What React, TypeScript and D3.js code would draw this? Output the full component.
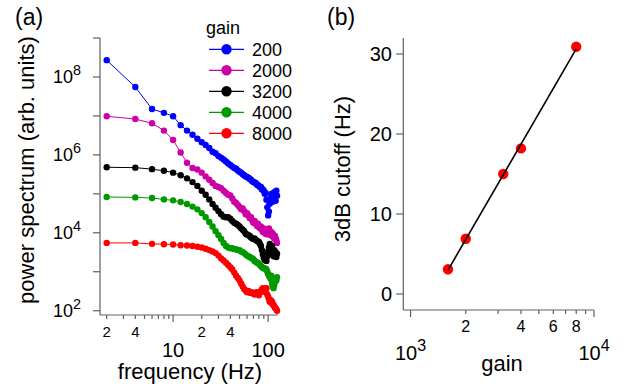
import { useEffect, useRef } from 'react';
import * as d3 from 'd3';

const FONT = '"Liberation Sans", Arial, Helvetica, sans-serif';
const AXIS_COLOR = '#606060';

// panel (a): power spectra, one series per gain, sampled every 2 Hz
const freqHz = [
  2, 4, 6, 8, 10, 12, 14, 16, 18, 20,
  22, 24, 26, 28, 30, 32, 34, 36, 38, 40,
  42, 44, 46, 48, 50, 52, 54, 56, 58, 60,
  62, 64, 66, 68, 70, 72, 74, 76, 78, 80,
  82, 84, 86, 88, 90, 92, 94, 96, 98, 100,
  102, 104, 106, 108, 110, 112, 114, 116, 118, 120,
  122, 124,
];

const gainLabels = ['200', '2000', '3200', '4000', '8000'];
const gainColors = ['#0000ff', '#cc00a6', '#000000', '#009900', '#ff0000'];

const power200 = [
  2.7e8, 5.5e7, 1.5e7, 1.2e7, 9.8e6, 5.8e6, 4.2e6, 3.3e6, 2.6e6, 2.1e6,
  1.8e6, 1.5e6, 1.2e6, 1.1e6, 9.3e5, 8.5e5, 7.6e5, 6.8e5, 6.0e5, 5.5e5,
  5.0e5, 4.6e5, 4.4e5, 4.0e5, 3.7e5, 3.5e5, 3.2e5, 3.0e5, 2.8e5, 2.7e5,
  2.6e5, 2.4e5, 2.3e5, 2.1e5, 2.0e5, 1.95e5, 1.9e5, 1.7e5, 1.7e5, 1.6e5,
  1.5e5, 1.5e5, 1.3e5, 1.3e5, 1.2e5, 1.0e5, 1.05e5, 7.1e4, 4.5e4, 2.8e4,
  3.5e4, 5.6e4, 7.9e4, 1.0e5, 7.1e4, 6.3e4, 8.9e4, 1.1e5, 7.9e4, 6.6e4,
  1.2e5, 8.9e4,
];
const power2000 = [
  9.8e6, 8.3e6, 6.5e6, 4.2e6, 2.4e6, 1.15e6, 6.3e5, 4.6e5, 4.2e5, 3.5e5,
  2.8e5, 2.3e5, 1.9e5, 1.6e5, 1.5e5, 1.4e5, 1.2e5, 1.05e5, 9.5e4, 9.1e4,
  7.6e4, 6.3e4, 5.8e4, 5.2e4, 4.6e4, 4.0e4, 4.2e4, 3.6e4, 3.0e4, 3.2e4,
  2.8e4, 2.4e4, 2.5e4, 2.1e4, 1.8e4, 2.0e4, 1.7e4, 1.5e4, 1.7e4, 1.4e4,
  1.3e4, 1.45e4, 1.2e4, 1.05e4, 1.3e4, 1.1e4, 9.5e3, 1.05e4, 9.1e3, 1.1e4,
  1.3e4, 1.0e4, 8.9e3, 1.05e4, 8.3e3, 9.5e3, 7.9e3, 7.1e3, 8.3e3, 7.2e3,
  6.3e3, 5.5e3,
];
const power3200 = [
  4.8e5, 4.7e5, 4.3e5, 3.9e5, 3.5e5, 3.0e5, 2.5e5, 2.0e5, 1.6e5, 1.2e5,
  9.5e4, 7.2e4, 5.5e4, 4.4e4, 3.6e4, 3.0e4, 2.6e4, 2.5e4, 2.5e4, 2.3e4,
  2.0e4, 1.8e4, 1.7e4, 1.6e4, 1.45e4, 1.3e4, 1.2e4, 1.1e4, 9.5e3, 9.1e3,
  8.7e3, 8.3e3, 7.6e3, 7.2e3, 6.9e3, 7.2e3, 6.6e3, 6.3e3, 6.0e3, 5.8e3,
  5.2e3, 4.6e3, 3.6e3, 2.8e3, 2.3e3, 2.0e3, 2.1e3, 1.9e3, 2.5e3, 3.3e3,
  4.2e3, 5.2e3, 3.8e3, 2.9e3, 4.6e3, 3.3e3, 2.5e3, 3.6e3, 2.8e3, 3.2e3,
  2.4e3, 2.9e3,
];
const power4000 = [
  8.3e4, 8.1e4, 7.8e4, 7.2e4, 6.8e4, 6.2e4, 5.5e4, 4.7e4, 4.0e4, 3.2e4,
  2.5e4, 1.9e4, 1.45e4, 1.1e4, 8.7e3, 6.9e3, 5.5e3, 4.6e3, 4.2e3, 4.0e3,
  4.0e3, 3.8e3, 3.8e3, 3.6e3, 3.6e3, 3.3e3, 3.2e3, 3.0e3, 2.8e3, 2.6e3,
  2.5e3, 2.4e3, 2.3e3, 2.2e3, 2.1e3, 1.9e3, 1.8e3, 1.7e3, 1.7e3, 1.6e3,
  1.5e3, 1.4e3, 1.3e3, 1.26e3, 1.26e3, 1.2e3, 1.2e3, 1.15e3, 1.0e3, 870,
  790, 760, 660, 790, 500, 420, 380, 460, 550, 660,
  600, 720,
];
const power8000 = [
  5.5e3, 5.5e3, 5.2e3, 5.1e3, 5.0e3, 4.8e3, 4.7e3, 4.6e3, 4.4e3, 4.2e3,
  3.9e3, 3.6e3, 3.3e3, 3.0e3, 2.6e3, 2.2e3, 1.95e3, 1.7e3, 1.5e3, 1.3e3,
  1.15e3, 950, 790, 690, 600, 500, 420, 360, 330, 300,
  320, 290, 300, 280, 290, 260, 280, 300, 280, 250,
  290, 320, 350, 380, 330, 360, 300, 380, 260, 230,
  200, 170, 190, 160, 170, 145, 140, 130, 120, 115,
  110, 100,
];
const spectra = [power200, power2000, power3200, power4000, power8000];

const freqMinorTicks = [2, 3, 4, 5, 6, 7, 8, 9, 20, 30, 40, 50, 60, 70, 80, 90];
const freqMinorLabels = [2, 4, 20, 40];
const freqMajorTicks = [10, 100];
const powerDecades = [2, 3, 4, 5, 6, 7, 8, 9];
const powerLabelled = [2, 4, 6, 8];

// panel (b): 3dB cutoff versus gain
const cutoffGain = [1600, 2000, 3200, 4000, 8000];
const cutoffHz = [3.1, 6.9, 15.0, 18.2, 30.9];
const cutoffTicks = [0, 10, 20, 30];
const gainMinorTicks = [2000, 3000, 4000, 5000, 6000, 7000, 8000, 9000];
const gainMinorLabels = [2000, 4000, 6000, 8000];
const gainDecades = [3, 4];

type G = d3.Selection<SVGGElement, unknown, null, undefined>;

function powerLabel(g: G, x: number, y: number, exp: number, size: number, anchor: string) {
  const t = g
    .append('text')
    .attr('x', x)
    .attr('y', y)
    .attr('text-anchor', anchor)
    .attr('font-size', size)
    .attr('fill', '#000');
  t.append('tspan').text('10');
  t.append('tspan')
    .attr('font-size', size * 0.8)
    .attr('dy', -size * 0.45)
    .text(String(exp));
}

function drawSpectra(g: G) {
  const x = d3.scaleLog().domain([1.7, 127]).range([100, 278]);
  const y = d3.scaleLog().domain([10 ** 1.89, 1e9]).range([315, 38]);

  // axes
  g.append('line')
    .attr('x1', x.range()[0]).attr('x2', x.range()[0])
    .attr('y1', y.range()[1]).attr('y2', y.range()[0])
    .attr('stroke', AXIS_COLOR).attr('stroke-width', 1.2);
  g.append('line')
    .attr('x1', x.range()[0]).attr('x2', x.range()[1])
    .attr('y1', y.range()[0]).attr('y2', y.range()[0])
    .attr('stroke', AXIS_COLOR).attr('stroke-width', 1.2);

  powerDecades.forEach((e) => {
    g.append('line')
      .attr('x1', x.range()[0] - 7).attr('x2', x.range()[0])
      .attr('y1', y(10 ** e)).attr('y2', y(10 ** e))
      .attr('stroke', AXIS_COLOR).attr('stroke-width', 1.2);
  });
  powerLabelled.forEach((e) => {
    powerLabel(g, 81, y(10 ** e) + 6.5, e, 18, 'end');
  });

  freqMinorTicks.forEach((f) => {
    g.append('line')
      .attr('x1', x(f)).attr('x2', x(f))
      .attr('y1', y.range()[0]).attr('y2', y.range()[0] + 4)
      .attr('stroke', AXIS_COLOR).attr('stroke-width', 1.2);
  });
  freqMajorTicks.forEach((f) => {
    g.append('line')
      .attr('x1', x(f)).attr('x2', x(f))
      .attr('y1', y.range()[0]).attr('y2', y.range()[0] + 7)
      .attr('stroke', AXIS_COLOR).attr('stroke-width', 1.2);
    g.append('text')
      .attr('x', x(f)).attr('y', 357)
      .attr('text-anchor', 'middle').attr('font-size', 20)
      .text(String(f));
  });
  freqMinorLabels.forEach((f) => {
    g.append('text')
      .attr('x', x(f)).attr('y', 337)
      .attr('text-anchor', 'middle').attr('font-size', 15)
      .text(String(f).charAt(0));
  });

  g.append('text')
    .attr('x', 190).attr('y', 379)
    .attr('text-anchor', 'middle').attr('font-size', 22)
    .text('frequency (Hz)');
  g.append('text')
    .attr('transform', 'translate(34,170) rotate(-90)')
    .attr('text-anchor', 'middle').attr('font-size', 22)
    .text('power spectrum (arb. units)');
  g.append('text')
    .attr('x', 15).attr('y', 25)
    .attr('font-size', 23)
    .text('(a)');

  // series
  const line = d3
    .line<number>()
    .x((_, i) => x(freqHz[i]))
    .y((d) => y(d));
  spectra.forEach((values, s) => {
    const color = gainColors[s];
    g.append('path')
      .attr('d', line(values) ?? '')
      .attr('fill', 'none')
      .attr('stroke', color)
      .attr('stroke-width', 1);
    g.append('g')
      .selectAll('circle')
      .data(values)
      .join('circle')
      .attr('cx', (_, i) => x(freqHz[i]))
      .attr('cy', (d) => y(d))
      .attr('r', 3.2)
      .attr('fill', color);
  });

  // legend
  const lg = g.append('g');
  lg.append('text')
    .attr('x', 206).attr('y', 34)
    .attr('font-size', 18)
    .text('gain');
  gainLabels.forEach((label, i) => {
    const ly = 49.3 + i * 21;
    lg.append('line')
      .attr('x1', 209).attr('x2', 244)
      .attr('y1', ly).attr('y2', ly)
      .attr('stroke', gainColors[i]).attr('stroke-width', 1.2);
    lg.append('circle')
      .attr('cx', 226.5).attr('cy', ly).attr('r', 5.2)
      .attr('fill', gainColors[i]);
    lg.append('text')
      .attr('x', 252).attr('y', ly + 6.5)
      .attr('font-size', 18)
      .text(label);
  });
}

function drawCutoff(g: G) {
  const x = d3.scaleLog().domain([913, 10000]).range([403.3, 594]);
  const y = d3.scaleLinear().domain([-2, 32]).range([310, 38]);

  g.append('line')
    .attr('x1', x.range()[0]).attr('x2', x.range()[0])
    .attr('y1', y.range()[1]).attr('y2', y.range()[0])
    .attr('stroke', AXIS_COLOR).attr('stroke-width', 1.2);
  g.append('line')
    .attr('x1', x.range()[0]).attr('x2', x.range()[1])
    .attr('y1', y.range()[0]).attr('y2', y.range()[0])
    .attr('stroke', AXIS_COLOR).attr('stroke-width', 1.2);

  cutoffTicks.forEach((v) => {
    g.append('line')
      .attr('x1', x.range()[0] - 7).attr('x2', x.range()[0])
      .attr('y1', y(v)).attr('y2', y(v))
      .attr('stroke', AXIS_COLOR).attr('stroke-width', 1.2);
    g.append('text')
      .attr('x', 392).attr('y', y(v) + 7)
      .attr('text-anchor', 'end').attr('font-size', 20)
      .text(String(v));
  });

  gainMinorTicks.forEach((v) => {
    g.append('line')
      .attr('x1', x(v)).attr('x2', x(v))
      .attr('y1', y.range()[0]).attr('y2', y.range()[0] + 4)
      .attr('stroke', AXIS_COLOR).attr('stroke-width', 1.2);
  });
  gainMinorLabels.forEach((v) => {
    g.append('text')
      .attr('x', x(v)).attr('y', 332)
      .attr('text-anchor', 'middle').attr('font-size', 16)
      .text(String(v / 1000));
  });
  gainDecades.forEach((e) => {
    g.append('line')
      .attr('x1', x(10 ** e)).attr('x2', x(10 ** e))
      .attr('y1', y.range()[0]).attr('y2', y.range()[0] + 7)
      .attr('stroke', AXIS_COLOR).attr('stroke-width', 1.2);
    powerLabel(g, x(10 ** e), 360, e, 20, 'middle');
  });

  g.append('text')
    .attr('x', 502).attr('y', 371)
    .attr('text-anchor', 'middle').attr('font-size', 22)
    .text('gain');
  g.append('text')
    .attr('transform', 'translate(350,169) rotate(-90)')
    .attr('text-anchor', 'middle').attr('font-size', 22)
    .text('3dB cutoff (Hz)');
  g.append('text')
    .attr('x', 327).attr('y', 25)
    .attr('font-size', 23)
    .text('(b)');

  // points
  g.append('g')
    .selectAll('circle')
    .data(cutoffHz)
    .join('circle')
    .attr('cx', (_, i) => x(cutoffGain[i]))
    .attr('cy', (d) => y(d))
    .attr('r', 5.2)
    .attr('fill', '#ff0000');

  // least-squares fit, linear in log(gain)
  const lx = cutoffGain.map((v) => Math.log10(v));
  const mx = d3.mean(lx) ?? 0;
  const my = d3.mean(cutoffHz) ?? 0;
  const sxy = d3.sum(lx, (v, i) => (v - mx) * (cutoffHz[i] - my));
  const sxx = d3.sum(lx, (v) => (v - mx) ** 2);
  const slope = sxy / sxx;
  const fit = (gv: number) => my + slope * (Math.log10(gv) - mx);
  const g0 = d3.min(cutoffGain) ?? 1000;
  const g1 = d3.max(cutoffGain) ?? 10000;
  g.append('line')
    .attr('x1', x(g0)).attr('y1', y(fit(g0)))
    .attr('x2', x(g1)).attr('y2', y(fit(g1)))
    .attr('stroke', '#000').attr('stroke-width', 1.6);
}

export default function App() {
  const svgRef = useRef<SVGSVGElement>(null);

  useEffect(() => {
    if (!svgRef.current) return;
    const svg = d3.select(svgRef.current);
    svg.selectAll('*').remove();
    svg.attr('font-family', FONT);
    drawSpectra(svg.append('g'));
    drawCutoff(svg.append('g'));
  }, []);

  return (
    <svg
      ref={svgRef}
      width={628}
      height={392}
      style={{ position: 'absolute', left: 0, top: 0, background: '#fff' }}
    />
  );
}
